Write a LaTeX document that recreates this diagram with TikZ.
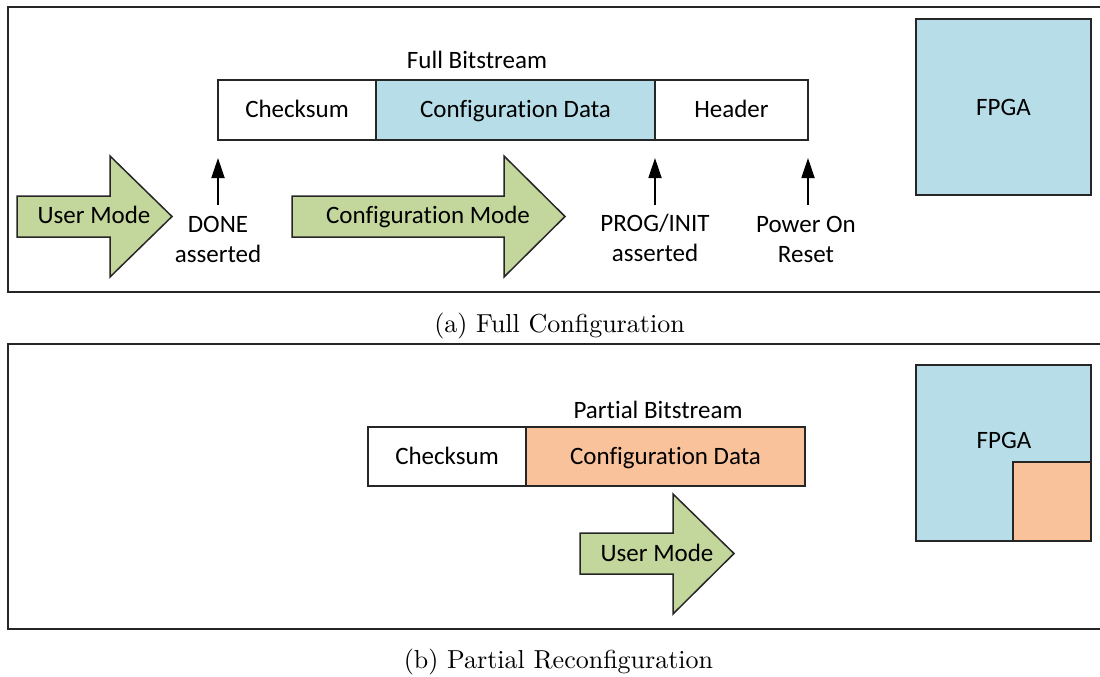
\documentclass[tikz,border=0pt]{standalone}
\usepackage{fontspec}
\setsansfont{Carlito}[Ligatures={NoCommon,NoContextual}]
\usetikzlibrary{arrows.meta}
\definecolor{cfgblue}{HTML}{B7DDE8}
\definecolor{modegreen}{HTML}{C3D69B}
\definecolor{partorange}{HTML}{F9C29A}
\definecolor{edge}{HTML}{262626}
% keep "t" and "i" as separate glyphs
\newcommand{\tibreak}{\kern0pt}

\begin{document}
\begin{tikzpicture}[x=1pt,y=-1pt,
  lbl/.style={font=\sffamily\fontsize{25}{30}\selectfont, inner sep=0pt, align=center, text=black},
  seg/.style={lbl, draw=edge, line width=2pt, minimum height=60pt, text height=15pt, text depth=0pt},
  frame/.style={draw=edge, line width=2pt},
  modearrow/.style={draw=edge, line width=1.5pt, fill=modegreen, line join=miter},
  sig/.style={draw=black, line width=1.8pt, -{Triangle[length=20pt,width=13pt]}},
  captext/.style={font=\rmfamily\fontsize{10}{12}\selectfont, inner sep=0pt, scale=2.6, anchor=base}
]
\useasboundingbox (0,0) rectangle (1100,677);
\clip (0,0) rectangle (1100,677);

% ---------- (a) full configuration ----------
\draw[frame] (8,7) rectangle (1112,292);

\node[lbl, anchor=base] (fulltitle) at (477,68) {Full Bitstream};
\node[seg, minimum width=158pt] (csA) at (297,110) {Checksum};
\node[seg, minimum width=279pt, fill=cfgblue] (cdA) at (515.5,110) {Configurat\tibreak ion Data};
\node[seg, minimum width=153pt] (hdr) at (731.5,110) {Header};

\node[seg, minimum width=175pt, minimum height=176pt, text height=16pt, fill=cfgblue] (fpgaA) at (1003.5,107) {FPGA};

% mode arrows
\path[modearrow] (17,196) -- (110,196) -- (110,156) -- (172,216.5) -- (110,277) -- (110,237) -- (17,237) -- cycle;
\node[lbl, anchor=base] (userA) at (94,223) {User Mode};
\path[modearrow] (292,196) -- (504,196) -- (504,156) -- (565,216.5) -- (504,277) -- (504,237) -- (292,237) -- cycle;
\node[lbl, anchor=base] (cfgmode) at (428,223) {Configurat\tibreak ion Mode};

% events
\node[lbl, anchor=north] (done) at (218,216) {DONE\\asserted};
\node[lbl, anchor=north] (prog) at (655,214) {PROG/INIT\\asserted};
\node[lbl, anchor=north] (por) at (806,216) {Power On\\Reset};
\coordinate (doneTail) at (218,205);
\coordinate (progTail) at (655,205);
\coordinate (porTail) at (808,205);
\draw[sig, shorten >=17pt] (doneTail) -- (doneTail |- csA.south);
\draw[sig, shorten >=17pt] (progTail) -- (progTail |- cdA.south);
\draw[sig, shorten >=17pt] (porTail) -- (porTail |- hdr.south);

\node[captext] (capA) at (559.5,332) {(a) Full Configuration};

% ---------- (b) partial reconfiguration ----------
\draw[frame] (8,344) rectangle (1112,629);

\node[lbl, anchor=base] (parttitle) at (658,418) {Part\tibreak ial Bitstream};
\node[seg, minimum width=158pt, minimum height=59pt] (csB) at (447,456.5) {Checksum};
\node[seg, minimum width=279pt, minimum height=59pt, fill=partorange] (cdB) at (665.5,456.5) {Configurat\tibreak ion Data};

\node[seg, minimum width=175pt, minimum height=176pt, fill=cfgblue] (fpgaB) at (1003.5,453) {};
\node[seg, minimum width=78pt, minimum height=79pt, fill=partorange] (region) at (1052,501.5) {};
\node[lbl, anchor=base] (fpgaBtext) at (1004,448) {FPGA};

\path[modearrow] (580,533) -- (673,533) -- (673,494) -- (734,553.5) -- (673,614) -- (673,574) -- (580,574) -- cycle;
\node[lbl, anchor=base] (userB) at (657,561) {User Mode};

\node[captext] (capB) at (558.5,668) {(b) Partial Reconfiguration};
\end{tikzpicture}
\end{document}
